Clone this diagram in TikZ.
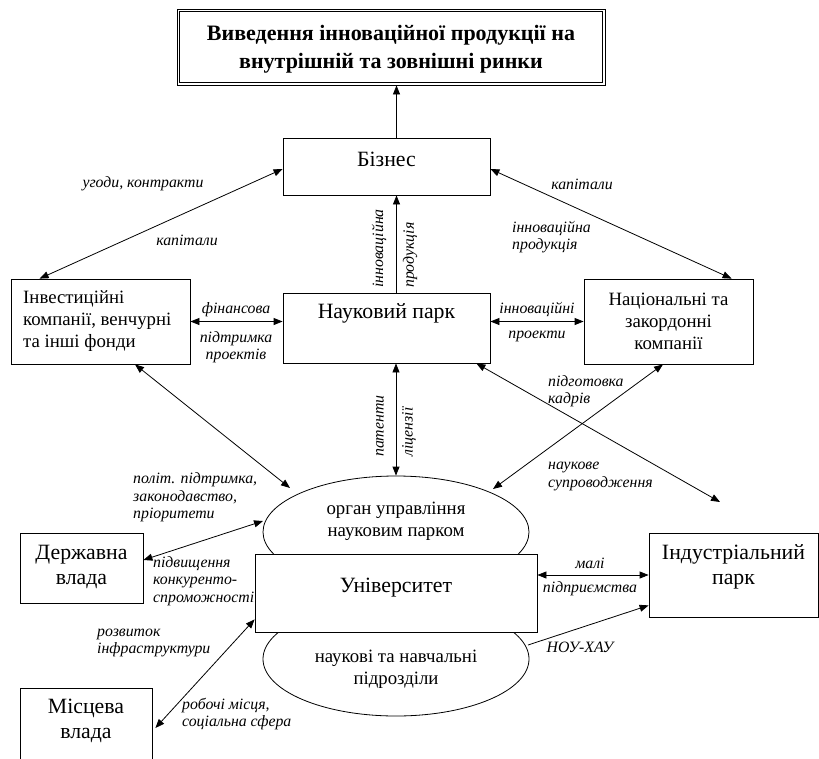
\documentclass[tikz,border=0pt]{standalone}
\usepackage{fontspec}
\setmainfont{Liberation Serif}
\usetikzlibrary{arrows.meta,shapes.geometric}
\begin{document}
\begin{tikzpicture}[x=1pt,y=-1pt,
  bx/.style={draw,line width=0.8pt,inner sep=0pt,fill=white},
  big/.style={font=\fontsize{21.8}{25.5}\selectfont,align=center,inner sep=0pt},
  mid/.style={font=\fontsize{18.8}{22}\selectfont,inner sep=0pt},
  lbl/.style={font=\fontsize{15.8}{17.6}\selectfont\itshape,inner sep=0pt},
  arr/.style={line width=0.8pt,{Triangle[length=9pt,width=7pt]}-{Triangle[length=9pt,width=7pt]}},
  arrs/.style={line width=0.8pt,-{Triangle[length=9pt,width=7pt]}},
]
\useasboundingbox (0,0) rectangle (819,758);
% ellipses (drawn first, partly covered by the university box)
\node[draw,ellipse,line width=0.8pt,minimum width=266pt,minimum height=112pt,inner sep=0pt] (org) at (396,532) {};
\node[draw,ellipse,line width=0.8pt,minimum width=266pt,minimum height=114pt,inner sep=0pt] (sub) at (396,659) {};
\node[mid,align=center] (orgt) at (396,521) {орган управління\\науковим парком};
\node[mid,align=center] (subt) at (396,669) {наукові та навчальні\\підрозділи};
% boxes
\node[bx,minimum width=428pt,minimum height=76pt] (title) at (391,47) {};
\draw[line width=1.6pt] ([shift={(3pt,-3pt)}]title.north west) rectangle ([shift={(-3pt,3pt)}]title.south east);
\node[font=\bfseries\fontsize{22}{28}\selectfont,align=center,inner sep=0pt] (titlet) at (391,49) {Виведення інноваційної продукції на\\внутрішній та зовнішні ринки};
\node[bx,minimum width=207pt,minimum height=57pt] (biz) at (386.5,166.5) {};
\node[big] (bizt) at (386.5,159) {Бізнес};
\node[bx,minimum width=207pt,minimum height=70pt] (park) at (386.5,328) {};
\node[big] (parkt) at (386.5,313) {Науковий парк};
\node[bx,minimum width=179pt,minimum height=85pt] (inv) at (100.5,321.5) {};
\node[mid,align=left,anchor=west] (invt) at (23,321) {Інвестиційні\\компанії, венчурні\\та інші фонди};
\node[bx,minimum width=169pt,minimum height=85pt] (nat) at (668.5,321.5) {};
\node[mid,align=center] (natt) at (668.5,321) {Національні та\\закордонні\\компанії};
\node[bx,minimum width=282pt,minimum height=78pt] (univ) at (396,593) {};
\node[big] (univt) at (396,588) {Університет};
\node[bx,minimum width=123pt,minimum height=70pt] (derzh) at (81.5,568) {};
\node[big] (derzht) at (81.5,567) {Державна\\влада};
\node[bx,minimum width=132pt,minimum height=74pt] (misc) at (86,725) {};
\node[big] (misct) at (86,721) {Місцева\\влада};
\node[bx,minimum width=169pt,minimum height=84pt] (ind) at (733.5,575) {};
\node[big] (indt) at (733.5,567) {Індустріальний\\парк};
% helper coordinates
\coordinate (spine) at (396.5,0);
\coordinate (o1) at (290,488);
\coordinate (o2) at (493,489);
\coordinate (o3) at (263,521);
\coordinate (free) at (720,502);
\coordinate (s1) at (528,645);
% connectors
\draw[arrs] (biz.north -| spine) -- (title.south -| spine);
\draw[arrs] (park.north -| spine) -- (biz.south -| spine);
\draw[arr] (org.north) -- (park.south -| org.north);
\draw[arr] (inv.east) -- (inv.east -| park.west);
\draw[arr] (nat.west -| park.east) -- (nat.west);
\draw[arr] ([xshift=29pt]inv.north west) -- ([yshift=-2.5pt]biz.west);
\draw[arr] ([yshift=-2.5pt]biz.east) -- ([xshift=148pt]nat.north west);
\draw[arr] ([xshift=34.5pt]inv.south) -- (o1);
\draw[arr] ([xshift=-5.5pt]nat.south) -- (o2);
\draw[arr] ([xshift=-14pt]park.south east) -- (free);
\draw[arr] ([yshift=8pt]derzh.east) -- (o3);
\draw[arr] ([shift={(3pt,-3pt)}]misc.east) -- ([yshift=13pt]univ.south west);
\draw[arr] (ind.west -| univ.east) -- (ind.west);
\draw[arrs] (s1) -- ([yshift=12pt]ind.south west);
% labels
\node[lbl] (l1) at (143,184) {угоди, контракти};
\node[lbl] (l2) at (187,240) {капітали};
\node[lbl] (l3) at (582,184) {капітали};
\node[lbl,align=left,anchor=west] (l4) at (512,237) {інноваційна\\продукція};
\node[lbl,rotate=90,anchor=west] (l5) at (379,288) {інноваційна};
\node[lbl,rotate=90,anchor=west] (l6) at (410,288) {продукція};
\node[lbl] (l7) at (236,310) {фінансова};
\node[lbl,align=center] (l8) at (236,347) {підтримка\\проектів};
\node[lbl] (l9) at (537,309) {інноваційні};
\node[lbl] (l10) at (537,336) {проекти};
\node[lbl,align=left,anchor=west] (l11) at (548,391) {підготовка\\кадрів};
\node[lbl,align=left,anchor=west] (l12) at (548,476.5) {наукове\\супроводження};
\node[lbl,rotate=90,anchor=west] (l13) at (380,457) {патенти};
\node[lbl,rotate=90,anchor=west] (l14) at (409,457) {ліцензії};
\node[lbl,align=left,anchor=west] (l15) at (133,497.5) {політ. підтримка,\\законодавство,\\пріоритети};
\node[lbl,align=left,anchor=west] (l16) at (153,581) {підвищення\\конкуренто-\\спроможності};
\node[lbl] (l17) at (590,563) {малі};
\node[lbl] (l18) at (590,589) {підприємства};
\node[lbl,align=left,anchor=west] (l19) at (97,643) {розвиток\\інфраструктури};
\node[lbl,align=left,anchor=west] (l20) at (182,714) {робочі місця,\\соціальна сфера};
\node[lbl] (l21) at (580,647) {НОУ-ХАУ};
\end{tikzpicture}
\end{document}
